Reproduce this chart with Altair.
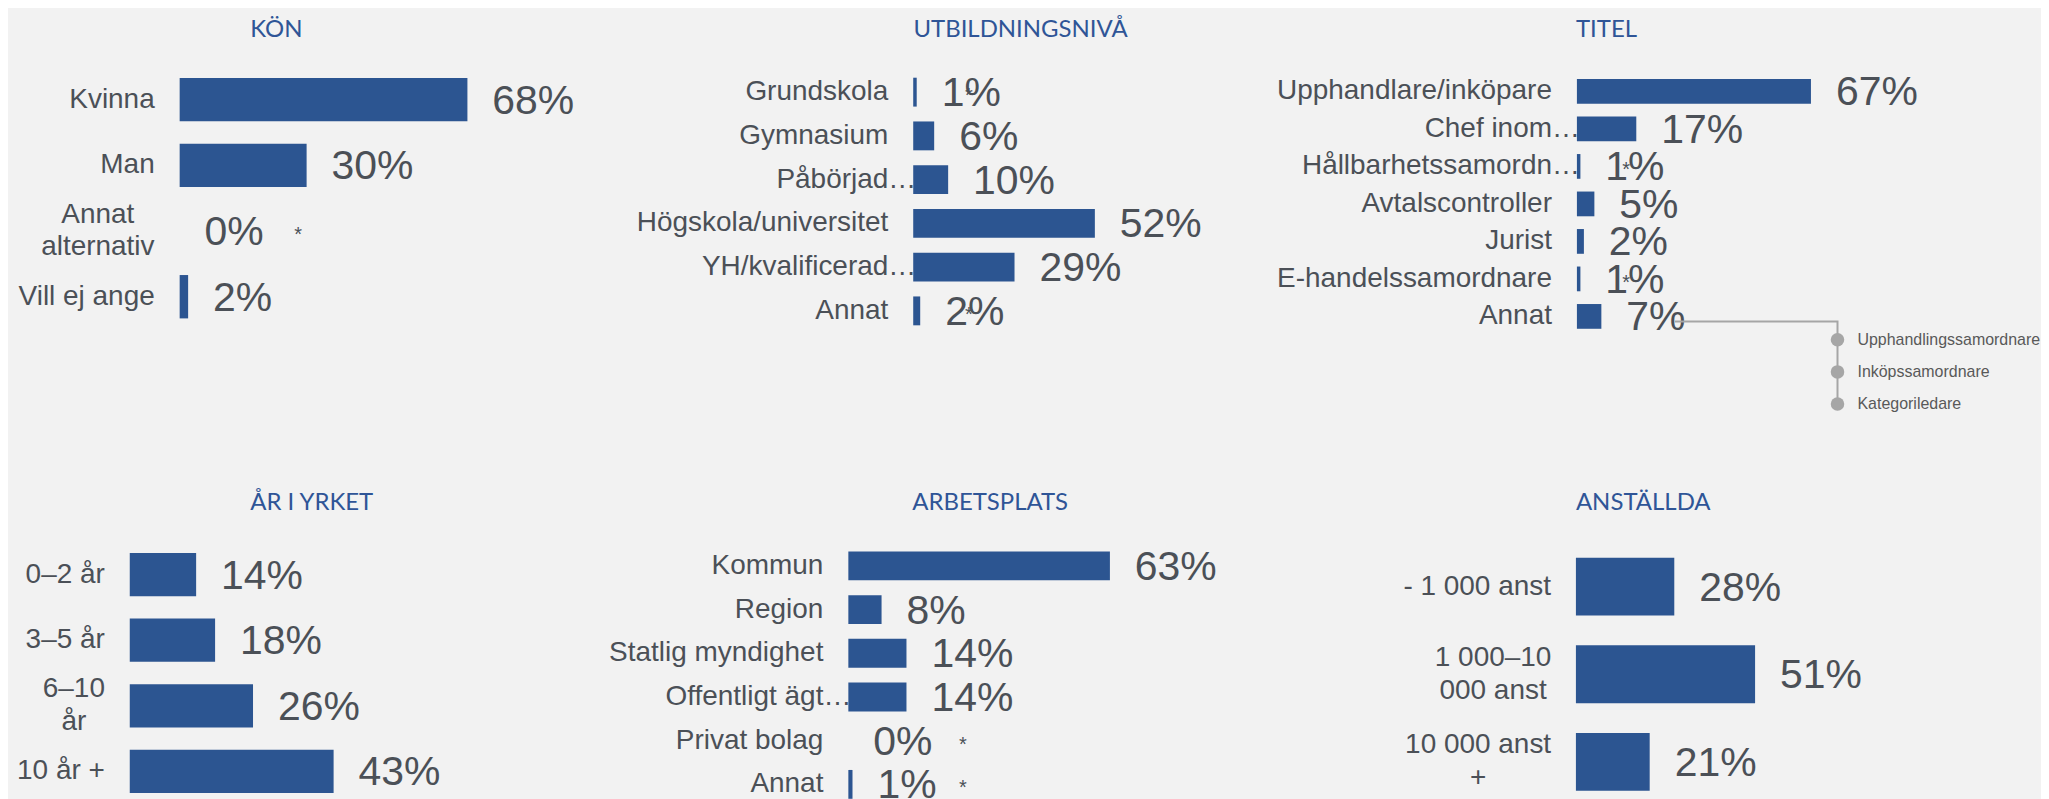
import altair as alt
import pandas as pd

# ---------------- data ----------------
kon_title = "KÖN"
kon_cats = ["Kvinna", "Man", "Annat|alternativ", "Vill ej ange"]
kon_vals = [68, 30, 0, 2]
kon_note = ["", "", "*", ""]

utb_title = "UTBILDNINGSNIVÅ"
utb_cats = ["Grundskola", "Gymnasium", "Påbörjad…", "Högskola/universitet",
            "YH/kvalificerad…", "Annat"]
utb_vals = [1, 6, 10, 52, 29, 2]
utb_note = ["*", "", "", "", "", "*"]

titel_title = "TITEL"
titel_cats = ["Upphandlare/inköpare", "Chef inom…", "Hållbarhetssamordn…",
              "Avtalscontroller", "Jurist", "E-handelssamordnare", "Annat"]
titel_vals = [67, 17, 1, 5, 2, 1, 7]
titel_note = ["", "", "*", "", "", "*", ""]
titel_annat_examples = ["Upphandlingssamordnare", "Inköpssamordnare", "Kategoriledare"]

ar_title = "ÅR I YRKET"
ar_cats = ["0–2 år", "3–5 år", "6–10|år", "10 år +"]
ar_vals = [14, 18, 26, 43]
ar_note = ["", "", "", ""]

arb_title = "ARBETSPLATS"
arb_cats = ["Kommun", "Region", "Statlig myndighet", "Offentligt ägt…",
            "Privat bolag", "Annat"]
arb_vals = [63, 8, 14, 14, 0, 1]
arb_note = ["", "", "", "", "*", "*"]

anst_title = "ANSTÄLLDA"
anst_cats = ["- 1 000 anst", "1 000–10|000 anst", "10 000 anst|+"]
anst_vals = [28, 51, 21]
anst_note = ["", "", ""]

# ---------------- style / layout ----------------
BG = "#f2f2f2"
BAR = "#2c5591"
TXT = "#4b5057"
TITLE_C = "#2f5597"
ANN_C = "#a6a6a6"
ANN_TXT = "#595959"
FONT = "Liberation Sans"
TFONT = "Lato"

COL_W = [720, 728.7, 463]
ROW_H = 290
ROW_GAP = 180
LABEL_GAP = 25
ELLIPSIS_W = 28
LINE_H = 32.7
WRAP_HALF = {"Annat|alternativ": 57, "6–10|år": 31,
             "1 000–10|000 anst": 58, "10 000 anst|+": 73}

LAY = {
    kon_title: dict(off=50, k=4.24, yr=(7.1, 270.4), tdx=120.7, toff=-1, nx=28.0, col=0),
    utb_title: dict(off=65, k=3.5, yr=(10.6, 273.6), tdx=65.2, toff=-1, nx=15.9, col=1),
    titel_title: dict(off=1, k=3.5, yr=(13, 276), tdx=0, toff=-1, nx=14.1, col=2),
    ar_title: dict(off=0, k=4.75, yr=(13, 276), tdx=120.7, toff=-5, nx=20, col=0),
    arb_title: dict(off=0, k=4.16, yr=(15.3, 278), tdx=64, toff=-5, nx=27.6, col=1),
    anst_title: dict(off=0, k=3.52, yr=(14.1, 277.4), tdx=0, toff=-5, nx=20, col=2),
}


def xscale(lay):
    return alt.Scale(domain=[0, 100], range=[lay["off"], lay["off"] + 100 * lay["k"]],
                     nice=False, zero=True)


def panel_layers(title, cats, vals, notes):
    lay = LAY[title]
    df = pd.DataFrame({"cat": cats, "value": vals, "note": notes})
    yscale = alt.Scale(domain=cats, range=list(lay["yr"]), paddingInner=0.34, paddingOuter=0.17)
    y = alt.Y("cat:N", sort=cats, scale=yscale, axis=None)
    x = alt.X("value:Q", scale=xscale(lay), axis=None)
    lab_style = dict(baseline="middle", fontSize=28, font=FONT, color=TXT)

    base = alt.Chart(df)
    layers = [base.mark_bar(color=BAR).encode(x=x, y=y)]
    layers.append(base.transform_calculate(lbl="datum.value + '%'").mark_text(
        align="left", baseline="middle", dx=25, dy=2, fontSize=41, font=FONT, color=TXT
    ).encode(x=x, y=y, text="lbl:N"))
    if any(notes):
        layers.append(base.transform_filter("datum.note != ''").mark_text(
            align="center", baseline="middle", dy=4, fontSize=20, font=FONT, color=TXT
        ).encode(x=alt.datum(lay["nx"]), y=y, text="note:N"))
    # category labels, right-aligned at the bar origin
    layers.append(base.transform_filter(
        "indexof(datum.cat, '|') < 0 && indexof(datum.cat, '…') < 0").mark_text(
        align="right", dx=-LABEL_GAP, **lab_style).encode(x=alt.datum(0), y=y, text="cat:N"))
    if any(c.endswith("…") for c in cats):
        layers.append(base.transform_filter("indexof(datum.cat, '…') >= 0").mark_text(
            align="right", dx=-LABEL_GAP + ELLIPSIS_W, **lab_style
        ).encode(x=alt.datum(0), y=y, text="cat:N"))
    for c in cats:
        if "|" in c:
            n_extra = c.count("|")
            layers.append(base.transform_filter(f"datum.cat === '{c}'").transform_calculate(
                lines="split(datum.cat, '|')").mark_text(
                align="center", dx=-(LABEL_GAP + WRAP_HALF[c]), dy=-n_extra * LINE_H / 2,
                lineHeight=LINE_H, **lab_style
            ).encode(x=alt.datum(0), y=y, text="lines:N"))
    return alt.layer(*layers)


def finish(chart, title):
    lay = LAY[title]
    return chart.properties(
        width=COL_W[lay["col"]], height=ROW_H,
        title=alt.TitleParams(text=title, anchor="start", frame="group", dx=lay["tdx"],
                              offset=lay["toff"], fontSize=24, font=TFONT, color=TITLE_C,
                              fontWeight="normal", baseline="alphabetic"))


p_kon = finish(panel_layers(kon_title, kon_cats, kon_vals, kon_note), kon_title)
p_utb = finish(panel_layers(utb_title, utb_cats, utb_vals, utb_note), utb_title)

# TITEL with the call-out listing what "Annat" contains
t_lay = LAY[titel_title]
ANN = dict(x_start=28.0, x_corner=74.6, slot_top=0.43, y_range=(262.3, 345))
slot_scale = alt.Scale(domain=[ANN["slot_top"], 3], range=list(ANN["y_range"]), nice=False, zero=False)
conn = pd.DataFrame({"x": [ANN["x_start"], ANN["x_corner"], ANN["x_corner"]],
                     "slot": [ANN["slot_top"], ANN["slot_top"], 3], "o": [0, 1, 2]})
items = pd.DataFrame({"item": titel_annat_examples,
                      "slot": list(range(1, len(titel_annat_examples) + 1))})
ann_line = alt.Chart(conn).mark_line(color=ANN_C, strokeWidth=2).encode(
    x=alt.X("x:Q", scale=xscale(t_lay), axis=None),
    y=alt.Y("slot:Q", scale=slot_scale, axis=None), order="o:O")
ann_dots = alt.Chart(items).mark_circle(color=ANN_C, size=184, opacity=1).encode(
    x=alt.datum(ANN["x_corner"]), y=alt.Y("slot:Q", scale=slot_scale, axis=None))
ann_text = alt.Chart(items).mark_text(align="left", baseline="middle", dx=20, fontSize=16,
                                      font=FONT, color=ANN_TXT).encode(
    x=alt.datum(ANN["x_corner"]), y=alt.Y("slot:Q", scale=slot_scale, axis=None), text="item:N")
p_titel = finish(
    alt.layer(panel_layers(titel_title, titel_cats, titel_vals, titel_note),
              alt.layer(ann_line, ann_dots, ann_text)).resolve_scale(y="independent"),
    titel_title)

p_ar = finish(panel_layers(ar_title, ar_cats, ar_vals, ar_note), ar_title)
p_arb = finish(panel_layers(arb_title, arb_cats, arb_vals, arb_note), arb_title)
p_anst = finish(panel_layers(anst_title, anst_cats, anst_vals, anst_note), anst_title)

chart = alt.concat(
    p_kon, p_utb, p_titel, p_ar, p_arb, p_anst,
    columns=3, spacing={"row": ROW_GAP, "column": 0}, bounds="flush", align="each"
).properties(
    padding={"left": 9, "top": 9, "right": 0, "bottom": 0}
).configure(background=BG).configure_view(stroke=None)

chart.save("out.html", embed_options={"renderer": "svg", "actions": False})
